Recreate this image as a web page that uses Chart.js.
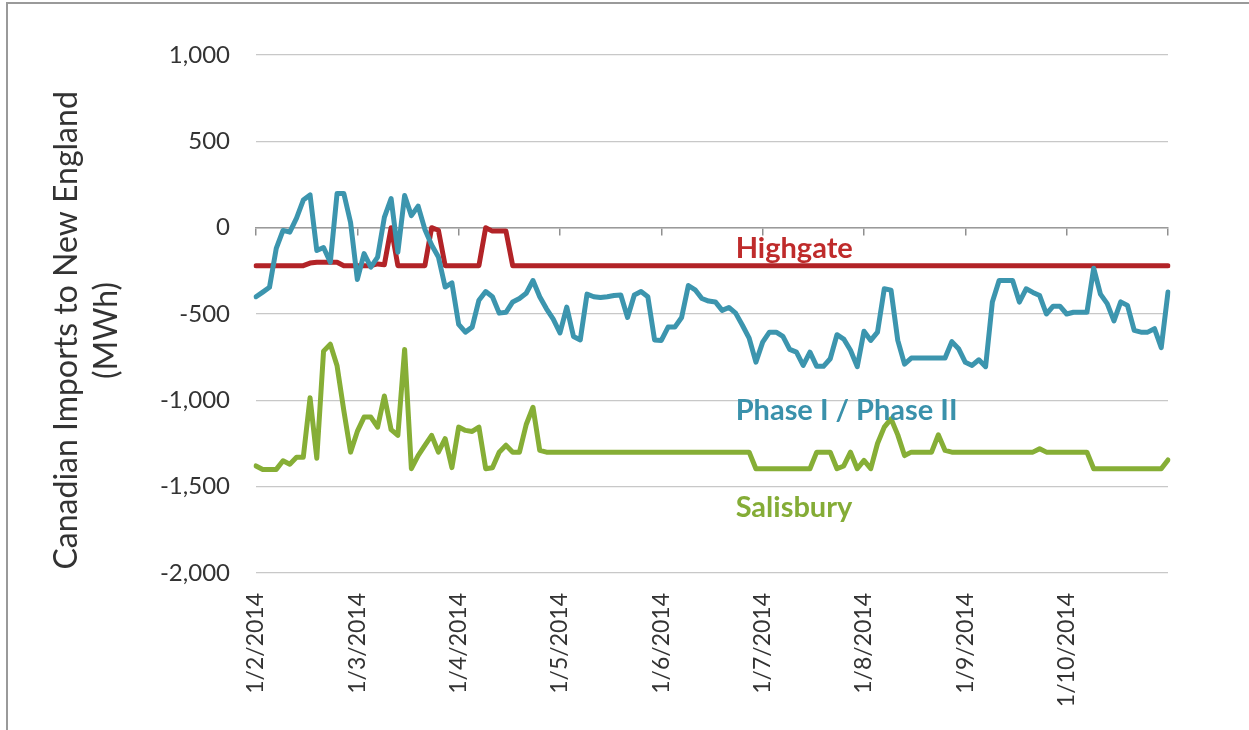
<!DOCTYPE html>
<html>
<head>
<meta charset="utf-8">
<script src="https://cdn.jsdelivr.net/npm/chart.js@4.4.0/dist/chart.umd.min.js"></script>
<style>
  body { margin: 0; background: #fff; }
  #wrap { position: relative; width: 1249px; height: 730px; }
  #frame { position: absolute; left: 6px; top: 2px; width: 1260px; height: 760px;
           border-left: 2px solid #9a9a9a; border-top: 2px solid #9a9a9a; pointer-events: none; }
</style>
</head>
<body>
<div id="wrap">
  <canvas id="importsChart" width="1249" height="730"></canvas>
  <div id="frame"></div>
</div>
<script>
// month tick labels (d/m/yyyy), 15 points per month (every second day)
var monthTicks = ['1/2/2014', '1/3/2014', '1/4/2014', '1/5/2014', '1/6/2014',
                  '1/7/2014', '1/8/2014', '1/9/2014', '1/10/2014'];
var pointsPerMonth = 15;

var highgate = [
  -220, -220, -220, -220, -220, -220, -220, -220, -205, -200, -200, -200, -200, -220, -220,
  -220, -220, -220, -210, -215, 0, -220, -220, -220, -220, -220, 0, -15, -220, -220,
  -220, -220, -220, -220, 0, -20, -20, -20, -220, -220, -220, -220, -220, -220, -220,
  -220, -220, -220, -220, -220, -220, -220, -220, -220, -220, -220, -220, -220, -220, -220,
  -220, -220, -220, -220, -220, -220, -220, -220, -220, -220, -220, -220, -220, -220, -220,
  -220, -220, -220, -220, -220, -220, -220, -220, -220, -220, -220, -220, -220, -220, -220,
  -220, -220, -220, -220, -220, -220, -220, -220, -220, -220, -220, -220, -220, -220, -220,
  -220, -220, -220, -220, -220, -220, -220, -220, -220, -220, -220, -220, -220, -220, -220,
  -220, -220, -220, -220, -220, -220, -220, -220, -220, -220, -220, -220, -220, -220, -220,
  -220
];

var phase = [
  -400, -373, -345, -120, -16, -26, 55, 160, 190, -132, -115, -200, 198, 198, 30,
  -300, -150, -229, -171, 60, 169, -142, 186, 70, 125, -10, -100, -170, -344, -320,
  -560, -605, -576, -420, -370, -400, -495, -490, -430, -410, -380, -306, -400, -470, -530,
  -610, -460, -630, -650, -385, -400, -405, -400, -393, -390, -520, -390, -370, -400, -650,
  -653, -576, -576, -520, -335, -360, -410, -425, -430, -479, -462, -495, -565, -640, -779,
  -663, -605, -605, -630, -705, -721, -798, -721, -803, -803, -759, -620, -645, -710, -805,
  -600, -653, -605, -354, -362, -653, -790, -755, -755, -755, -755, -755, -755, -660, -701,
  -780, -798, -765, -805, -430, -306, -306, -306, -431, -354, -375, -393, -500, -455, -455,
  -500, -490, -490, -490, -235, -385, -440, -540, -430, -450, -595, -605, -605, -585, -695,
  -373
];

var salisbury = [
  -1380, -1400, -1400, -1400, -1350, -1370, -1330, -1330, -985, -1335, -715, -675, -800, -1060, -1300,
  -1180, -1097, -1097, -1155, -975, -1170, -1203, -705, -1396, -1320, -1261, -1203, -1300, -1222, -1390,
  -1155, -1174, -1180, -1155, -1396, -1390, -1300, -1260, -1300, -1300, -1140, -1040, -1290, -1300, -1300,
  -1300, -1300, -1300, -1300, -1300, -1300, -1300, -1300, -1300, -1300, -1300, -1300, -1300, -1300, -1300,
  -1300, -1300, -1300, -1300, -1300, -1300, -1300, -1300, -1300, -1300, -1300, -1300, -1300, -1300, -1396,
  -1396, -1396, -1396, -1396, -1396, -1396, -1396, -1396, -1300, -1300, -1300, -1396, -1380, -1300, -1396,
  -1348, -1396, -1250, -1155, -1107, -1200, -1320, -1300, -1300, -1300, -1300, -1200, -1290, -1300, -1300,
  -1300, -1300, -1300, -1300, -1300, -1300, -1300, -1300, -1300, -1300, -1300, -1280, -1300, -1300, -1300,
  -1300, -1300, -1300, -1300, -1396, -1396, -1396, -1396, -1396, -1396, -1396, -1396, -1396, -1396, -1396,
  -1345
];

// category slots: month label on the first slot of each month, blanks elsewhere
var categories = [];
monthTicks.forEach(function (m) {
  categories.push(m);
  for (var k = 1; k < pointsPerMonth; k++) categories.push('');
});
categories.push('');

// in-plot series names: [category index, y value]
var seriesNames = [
  { text: 'Highgate', at: 71, value: -120, color: '#BF2B2B' },
  { text: 'Phase I / Phase II', at: 71, value: -1058, color: '#3A91AB' },
  { text: 'Salisbury', at: 71, value: -1620, color: '#84AC36' }
];

var seriesNamePlugin = {
  id: 'seriesNames',
  afterDatasetsDraw: function (chart) {
    var c = chart.ctx;
    var xs = chart.scales.x, ys = chart.scales.y;
    c.save();
    c.font = 'bold 29px Lato';
    c.textAlign = 'left';
    c.textBaseline = 'middle';
    seriesNames.forEach(function (s) {
      c.fillStyle = s.color;
      c.fillText(s.text, xs.getPixelForValue(s.at), ys.getPixelForValue(s.value));
    });
    c.restore();
  }
};

var lineStyle = { pointRadius: 0, borderWidth: 5, tension: 0, fill: false,
                  borderJoinStyle: 'round', borderCapStyle: 'round' };

var ctx = document.getElementById('importsChart').getContext('2d');
var importsChart = new Chart(ctx, {
  type: 'line',
  data: {
    labels: categories,
    datasets: [
      Object.assign({ label: 'Salisbury', data: salisbury, borderColor: '#86AE36', order: 1 }, lineStyle),
      Object.assign({ label: 'Phase I / Phase II', data: phase, borderColor: '#3C95AE', order: 2 }, lineStyle),
      Object.assign({ label: 'Highgate', data: highgate, borderColor: '#B22327', order: 3 }, lineStyle)
    ]
  },
  options: {
    responsive: false,
    animation: false,
    devicePixelRatio: 1,
    layout: { padding: { top: 55, right: 81, bottom: 0, left: 0 } },
    plugins: { legend: { display: false }, tooltip: { enabled: false } },
    scales: {
      x: {
        type: 'category',
        position: 'bottom',
        grid: { display: false },
        border: { display: false },
        ticks: {
          autoSkip: false,
          maxRotation: 90,
          minRotation: 90,
          padding: 12,
          color: '#333',
          font: { family: 'Lato', size: 23 },
          callback: function (value) { return categories[value]; }
        },
        afterFit: function (scale) { scale.height = 157; }
      },
      x2: {
        type: 'category',
        axis: 'x',
        labels: categories,
        position: { y: 0 },
        grid: {
          drawOnChartArea: false,
          drawTicks: true,
          tickLength: 7,
          lineWidth: 1.5,
          color: function (c) { return c.index % pointsPerMonth === 0 ? '#8f8f8f' : 'rgba(0,0,0,0)'; }
        },
        border: { display: true, color: '#9a9a9a', width: 1.5 },
        ticks: { display: false, autoSkip: false }
      },
      y: {
        min: -2000,
        max: 1000,
        ticks: {
          stepSize: 500,
          padding: 26,
          color: '#333',
          font: { family: 'Lato', size: 24 }
        },
        grid: { color: '#c8c8c8', lineWidth: 1.2, drawTicks: false },
        border: { display: false },
        title: {
          display: true,
          // trailing spaces nudge the rotated title down to sit like the original
          text: ['Canadian Imports to New England    ', '(MWh)    '],
          color: '#333',
          font: { family: 'Lato', size: 32, lineHeight: 1.25 },
          padding: { top: 47, bottom: 0 }
        },
        afterFit: function (scale) { scale.width = 256; }
      }
    }
  },
  plugins: [seriesNamePlugin]
});
</script>
</body>
</html>
